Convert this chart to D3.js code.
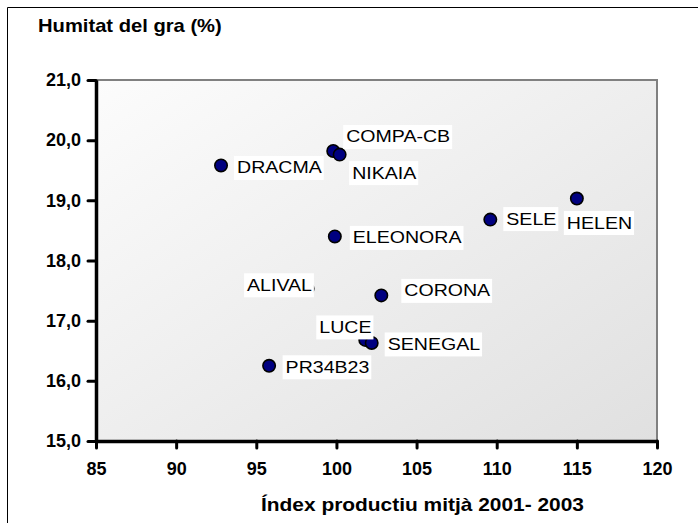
<!DOCTYPE html>
<html>
<head>
<meta charset="utf-8">
<script src="https://cdn.jsdelivr.net/npm/d3@7"></script>
<style>
  html, body { margin: 0; padding: 0; background: #ffffff; overflow: hidden; }
  svg { display: block; overflow: hidden; }
  text { font-family: "Liberation Sans", Arial, sans-serif; }
  .ax-line { stroke: #000 !important; stroke-width: 3.5px !important; fill: none; }
  .ax-tick { stroke: #000 !important; stroke-width: 3px !important; stroke-linecap: round; }
  .ax-label { fill: #000 !important; font-size: 18px !important; font-weight: bold !important; }
</style>
</head>
<body>
<svg id="chart" width="698" height="523"></svg>
<script>
// ---- data ----
const varieties = ["DRACMA", "COMPA-CB", "NIKAIA", "ELEONORA", "SELE", "HELEN", "CORONA", "ALIVAL", "LUCE", "SENEGAL", "PR34B23"];
const productionIndex = [92.8, 99.8, 100.2, 99.9, 109.6, 115.0, 102.8, 98.2, 101.8, 102.2, 95.8];
const grainMoisture = [19.58, 19.82, 19.76, 18.40, 18.68, 19.03, 17.42, 17.53, 16.68, 16.63, 16.25];
const xTicks = [85, 90, 95, 100, 105, 110, 115, 120];
const yTicks = [15, 16, 17, 18, 19, 20, 21];
const yTitle = "Humitat del gra (%)";
const xTitle = "Índex productiu mitjà 2001- 2003";

// ---- label placement (pixel offsets of text start/baseline from the marker) ----
const labelOffset = {
  "DRACMA": [16, 8], "COMPA-CB": [13, -8.5], "NIKAIA": [12.5, 24], "ELEONORA": [18, 7],
  "SELE": [16, 5], "HELEN": [-10, 30], "CORONA": [23, 1], "ALIVAL": [-60.5, 2],
  "LUCE": [-46, -7], "SENEGAL": [16, 7], "PR34B23": [16.5, 7]
};

const svg = d3.select("#chart");
const L = 96, R = 657, T = 80, B = 441;
const x = d3.scaleLinear().domain([85, 120]).range([L, R]);
const y = d3.scaleLinear().domain([15, 21]).range([B, T]);

function stretch(sel, k) {
  sel.each(function () {
    const w = this.getComputedTextLength();
    d3.select(this).attr("textLength", w * k).attr("lengthAdjust", "spacingAndGlyphs");
  });
}

// outer border (left and top edges visible in the frame)
svg.append("path").attr("d", "M7.5,523V7.5H698").attr("fill", "none")
  .attr("stroke", "#000").attr("stroke-width", 1);

// plot background gradient
const defs = svg.append("defs");
const grad = defs.append("linearGradient").attr("id", "plotbg")
  .attr("x1", "0").attr("y1", "0").attr("x2", "1").attr("y2", "1");
grad.append("stop").attr("offset", "0").attr("stop-color", "#fcfcfc");
grad.append("stop").attr("offset", "1").attr("stop-color", "#e0e0e0");
svg.append("rect").attr("x", L).attr("y", T).attr("width", R - L).attr("height", B - T)
  .attr("fill", "url(#plotbg)");
// gray top/right border
svg.append("path").attr("d", `M${L},${T}H${R}V${B}`).attr("fill", "none")
  .attr("stroke", "#808080").attr("stroke-width", 2);

// axes
const xAxis = d3.axisBottom(x).tickValues(xTicks).tickSizeInner(7).tickSizeOuter(0).tickPadding(14).tickFormat(d3.format("d"));
const yAxis = d3.axisLeft(y).tickValues(yTicks).tickSizeInner(8).tickSizeOuter(0).tickPadding(7).tickFormat(d => d3.format(".1f")(d).replace(".", ","));
const gx = svg.append("g").attr("transform", `translate(0,${B})`).call(xAxis);
const gy = svg.append("g").attr("transform", `translate(${L},0)`).call(yAxis);
[gx, gy].forEach(a => {
  a.attr("font-size", 18).attr("font-weight", "bold").attr("font-family", "Liberation Sans, Arial, sans-serif")
    .attr("stroke-width", 3);
  a.selectAll(".tick line").attr("class", "ax-tick")
    .style("stroke", "#000", "important").style("stroke-width", "3px", "important");
  a.selectAll(".tick text").attr("class", "ax-label")
    .style("fill", "#000", "important").style("font-size", "18px", "important").style("font-weight", "bold", "important");
  a.selectAll(".domain").attr("class", "ax-line")
    .style("stroke", "#000", "important").style("stroke-width", "3.5px", "important");
  a.selectAll(".tick").attr("class", "ax-tickgroup");
});

// titles
const t1 = svg.append("text").attr("x", 38).attr("y", 31.5).attr("font-size", 18.5).attr("font-weight", "bold")
  .attr("fill", "#000").text(yTitle);
stretch(t1, 1.09);
const t2 = svg.append("text").attr("x", 261).attr("y", 511).attr("font-size", 18.5).attr("font-weight", "bold")
  .attr("fill", "#000").text(xTitle);
stretch(t2, 1.13);

// points
const pts = varieties.map((v, i) => ({ name: v, px: productionIndex[i], py: grainMoisture[i] }));
svg.append("g").selectAll("circle").data(pts).join("circle")
  .attr("cx", d => x(d.px)).attr("cy", d => y(d.py)).attr("r", 6.2)
  .attr("fill", "#000080").attr("stroke", "#000").attr("stroke-width", 1.6);

// labels with white boxes
const lg = svg.append("g").selectAll("g").data(pts).join("g")
  .attr("transform", d => `translate(${x(d.px) + labelOffset[d.name][0]},${y(d.py) + labelOffset[d.name][1]})`);
lg.append("rect").attr("fill", "#fff");
const lt = lg.append("text").attr("font-size", 17).attr("fill", "#000").text(d => d.name);
stretch(lt, 1.15);
lt.each(function () {
  const w = +this.getAttribute("textLength");
  d3.select(this.parentNode).select("rect")
    .attr("x", -3).attr("y", -17.5).attr("width", w + 5).attr("height", 24);
});
</script>
</body>
</html>
